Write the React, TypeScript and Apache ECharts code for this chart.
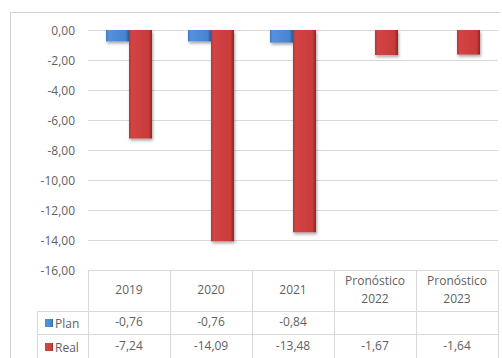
import React, { useEffect, useRef } from "react";
import * as echarts from "echarts";

const categories = ["2019", "2020", "2021", "Pronóstico\n2022", "Pronóstico\n2023"];
const planValues: (number | null)[] = [-0.76, -0.76, -0.84, null, null];
const realValues: (number | null)[] = [-7.24, -14.09, -13.48, -1.67, -1.64];
const yMin = -16;
const yMax = 0;
const yStep = 2;

const fmt = (v: number | null) => (v === null || v === undefined ? "" : v.toFixed(2).replace(".", ","));

const FONT = "'Open Sans', 'Liberation Sans', sans-serif";
const TXT = "#5f5f5f";
const LINE = "#d9d9d9";
const FS = 12;

export default function App() {
  const ref = useRef<HTMLDivElement>(null);
  useEffect(() => {
    if (!ref.current) return;
    const chart = echarts.init(ref.current, undefined, { renderer: "svg" });
    const redGrad = new echarts.graphic.LinearGradient(0, 0, 1, 0, [
      { offset: 0, color: "#b83434" },
      { offset: 0.12, color: "#d44444" },
      { offset: 0.85, color: "#c93b3b" },
      { offset: 1, color: "#8f2325" },
    ]);
    const blueGrad = new echarts.graphic.LinearGradient(0, 0, 1, 0, [
      { offset: 0, color: "#3f78c4" },
      { offset: 0.12, color: "#5592dc" },
      { offset: 0.85, color: "#4883d0" },
      { offset: 1, color: "#2c5a97" },
    ]);
    const seg = (x1: number, y1: number, x2: number, y2: number, color = LINE) => ({
      type: "line",
      shape: { x1, y1, x2, y2 },
      style: { stroke: color, lineWidth: 1 },
      silent: true,
      z: 10,
    });
    const legendText = { color: TXT, fontSize: FS, fontFamily: FONT, padding: [0, 0, 0, -3] };
    chart.setOption({
      animation: false,
      textStyle: { fontFamily: FONT },
      grid: { left: 88, right: 4, top: 30, bottom: 88, containLabel: false },
      legend: [
        {
          data: ["Plan"],
          orient: "vertical",
          left: 40,
          top: 312,
          itemWidth: 8,
          itemHeight: 8,
          icon: "rect",
          textStyle: legendText,
        },
        {
          data: ["Real"],
          orient: "vertical",
          left: 40,
          top: 336,
          itemWidth: 8,
          itemHeight: 8,
          icon: "rect",
          textStyle: legendText,
        },
      ],
      xAxis: [
        {
          type: "category",
          data: categories,
          position: "bottom",
          axisLine: { show: true, onZero: false, lineStyle: { color: LINE } },
          axisTick: { show: true, length: 88, lineStyle: { color: LINE } },
          axisLabel: {
            interval: 0,
            color: TXT,
            fontSize: FS,
            fontFamily: FONT,
            verticalAlign: "middle",
            lineHeight: 18,
            margin: 19,
          },
        },
        {
          type: "category",
          data: categories,
          position: "bottom",
          offset: 41,
          axisLine: { show: false, onZero: false },
          axisTick: { show: false },
          axisLabel: {
            interval: 0,
            color: TXT,
            fontSize: FS,
            fontFamily: FONT,
            verticalAlign: "middle",
            margin: 10,
            formatter: (_v: string, i: number) => fmt(planValues[i]),
          },
        },
        {
          type: "category",
          data: categories,
          position: "bottom",
          offset: 64,
          axisLine: { show: false, onZero: false },
          axisTick: { show: false },
          axisLabel: {
            interval: 0,
            color: TXT,
            fontSize: FS,
            fontFamily: FONT,
            verticalAlign: "middle",
            margin: 11,
            formatter: (_v: string, i: number) => fmt(realValues[i]),
          },
        },
      ],
      yAxis: {
        type: "value",
        min: yMin,
        max: yMax,
        interval: yStep,
        axisLine: { show: false },
        axisTick: { show: false },
        splitLine: { lineStyle: { color: LINE } },
        axisLabel: {
          color: TXT,
          fontSize: FS,
          fontFamily: FONT,
          margin: 13,
          formatter: (v: number) => fmt(v),
        },
      },
      series: [
        {
          name: "Plan",
          type: "bar",
          data: planValues,
          barWidth: 23,
          barGap: "0%",
          itemStyle: {
            color: blueGrad,
            shadowColor: "rgba(0,0,0,0.35)",
            shadowBlur: 3,
            shadowOffsetX: 1,
            shadowOffsetY: 2,
          },
        },
        {
          name: "Real",
          type: "bar",
          data: realValues,
          barWidth: 23,
          barGap: "0%",
          itemStyle: {
            color: redGrad,
            shadowColor: "rgba(0,0,0,0.35)",
            shadowBlur: 3,
            shadowOffsetX: 1,
            shadowOffsetY: 2,
          },
        },
      ],
      graphic: {
        elements: [
          seg(10.5, 12, 10.5, 358, "#d0d0d0"),
          seg(10, 12.5, 500, 12.5, "#d0d0d0"),
          seg(37, 311.5, 498, 311.5),
          seg(37, 334.5, 498, 334.5),
          seg(37.5, 311, 37.5, 358),
        ],
      },
    });
    return () => chart.dispose();
  }, []);
  return (
    <div
      ref={ref}
      style={{ position: "fixed", left: 0, top: 0, width: 502, height: 358, background: "#fff" }}
    />
  );
}
